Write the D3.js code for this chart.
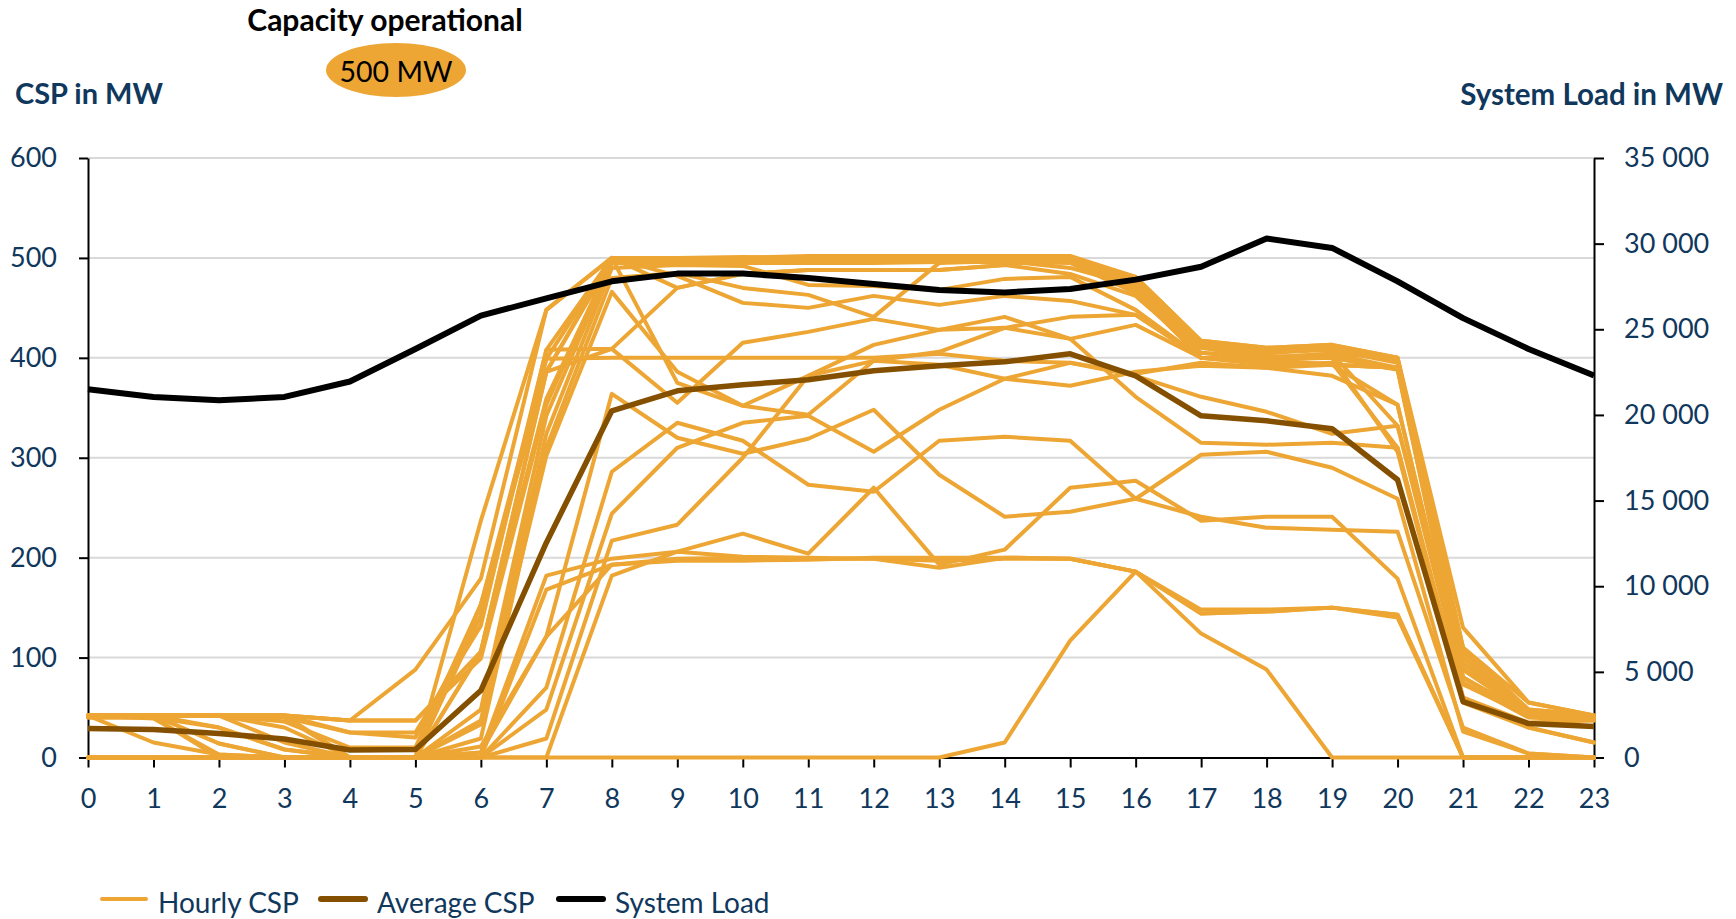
<!DOCTYPE html>
<html>
<head>
<meta charset="utf-8">
<script src="https://cdn.jsdelivr.net/npm/d3@7/dist/d3.min.js"></script>
<style>
  body { margin: 0; background: #fff; }
  svg { display: block; }
  text { font-family: Lato, "Open Sans", sans-serif; }
</style>
</head>
<body>
<svg id="chart" width="1736" height="919"></svg>
<script>
// Hours of the day
const hours = [0,1,2,3,4,5,6,7,8,9,10,11,12,13,14,15,16,17,18,19,20,21,22,23];

// Axis tick values
const cspTicks = [0,100,200,300,400,500,600];
const loadTicks = [0,5000,10000,15000,20000,25000,30000,35000];

// Hourly CSP output, one row per day (MW)
const hourlyCsp = [
  [42,42,42,42,37,37, 99,353,500,500,500,502,502,502,502,502,481,417,410,413,400,130,55,42],
  [42,42,42,40,25,20,142,399,500,500,501,500,500,500,500,500,478,415,408,410,398,105,48,42],
  [42,42,42,42,37,88,179,448,500,498,498,498,500,500,501,498,475,413,405,408,395,100,45,41],
  [42,42,42,36,10,10,153,386,498,500,500,500,499,499,500,500,470,410,400,404,390, 90,44,40],
  [42,42,30, 8, 0, 0,106,359,497,497,497,497,497,498,498,497,468,405,398,400,388, 80,42,41],
  [40,40,30, 8, 0, 0, 48,342,495,495,495,495,495,496,496,495,465,400,395,393,353, 75,40,37],
  [42,42,42,42,25,25,132,408,409,470,484,488,488,488,493,484,462,405,400,404,332, 73,42,41],
  [42,42,42,30, 0, 0, 37,324,490,493,492,473,472,468,479,481,448,400,393,395,310, 60,35,37],
  [42,15, 3, 0, 0, 0, 19,310,480,485,470,463,441,495,497,490,472,412,402,400,306, 55,30,15],
  [42,42,14, 0, 0, 0, 33,302,466,386,352,343,397,393,379,372,386,392,390,393,390, 88,44,41],
  [42,42,42,15, 0, 0,237,448,500,482,455,450,462,453,462,457,443,400,398,404,400,110,48,42],
  [42,42,42,40, 0, 0,153,399,400,400,400,400,400,404,397,395,384,395,390,382,353, 80,44,40],
  [ 0, 0, 0, 0, 0, 0,  5,121,364,320,304,319,348,283,241,246,259,303,306,290,259, 26, 4, 0],
  [ 0, 0, 0, 0, 0, 0,  0, 70,286,335,317,273,266,317,321,317,259,241,230,228,226, 30, 4, 0],
  [42,39, 3, 0, 0, 0,  0, 48,244,310,335,342,306,348,379,395,382,361,346,324,332, 88,44,40],
  [ 0, 0, 0, 0, 0, 0,  0, 19,217,233,300,382,413,428,430,441,443,400,398,393,390, 80,42,41],
  [ 0, 0, 0, 0, 0, 0,  5,182,199,206,201,200,199,197,199,199,186,144,146,150,143,  0, 0, 0],
  [ 0, 0, 0, 0, 0, 0,  0,168,193,197,197,198,200,200,200,199,186,148,148,150,140,  0, 0, 0],
  [ 0, 0, 0, 0, 0, 0,  0,  0,182,206,224,204,270,193,208,270,277,237,241,241,179,  0, 0, 0],
  [ 0, 0, 0, 0, 0, 0,  0,  0,  0,  0,  0,  0,  0,  0, 15,117,186,144,146,150,143,  0, 0, 0],
  [40,40, 0, 0, 0, 0, 11,121,193,199,200,199,199,190,200,199,186,124, 88,  0,  0,  0, 0, 0],
  [42,42,42,42,37,37,106,386,409,355,415,426,439,428,441,419,433,400,395,393,390, 95,44,40],
  [42,42,14, 0, 0, 0,142,408,500,375,352,382,397,406,430,419,361,315,313,315,310, 60,30,15],
  [42,42,42,42, 0, 0,106,386,500,470,484,488,488,488,493,500,481,417,410,413,400,110,55,42]
];

// Average CSP output (MW)
const averageCsp = [29,28,24,18.5,7.5,8,67,215,347,367,373,378,387,392,396,404,382,342,337,329,278,56,34,31];

// System load (MW)
const systemLoad = [21500,21050,20850,21050,21950,23850,25800,26800,27800,28250,28250,28000,27650,27300,27150,27350,27900,28650,30300,29750,27800,25650,23850,22300];

const legendItems = [
  {label: "Hourly CSP", color: "#EDA634", width: 4},
  {label: "Average CSP", color: "#845000", width: 6},
  {label: "System Load", color: "#000000", width: 6}
];

const NAVY = "#10375c";
const ORANGE = "#EDA634";

const svg = d3.select("#chart");
svg.append("rect").attr("width", 1736).attr("height", 919).attr("fill", "#fff");

const x = d3.scaleLinear().domain([0, 23]).range([88, 1594]);
const yL = d3.scaleLinear().domain([0, 600]).range([757.5, 158]);
const yR = d3.scaleLinear().domain([0, 35000]).range([757.5, 158]);

// Horizontal gridlines
svg.append("g").selectAll("line")
  .data(cspTicks.filter(t => t > 0))
  .join("line")
  .attr("x1", x(0)).attr("x2", x(23))
  .attr("y1", d => yL(d)).attr("y2", d => yL(d))
  .attr("stroke", "#d9d9d9").attr("stroke-width", 2);

// Axes
const spaceFmt = d3.formatLocale({decimal: ".", thousands: "\u00a0", grouping: [3], currency: ["", ""]}).format(",");

function styleAxis(g) {
  g.select(".domain").attr("stroke", "#000").attr("stroke-width", 2);
  g.selectAll(".tick line").attr("stroke", "#000").attr("stroke-width", 2);
  g.selectAll(".tick text")
    .attr("fill", NAVY)
    .style("font-family", "Lato, sans-serif")
    .style("font-size", "27px");
}

const axL = svg.append("g").attr("transform", `translate(${x(0)},0)`)
  .call(d3.axisLeft(yL).tickValues(cspTicks).tickSize(9).tickSizeOuter(0).tickPadding(22));
styleAxis(axL);

const axR = svg.append("g").attr("transform", `translate(${x(23)},0)`)
  .call(d3.axisRight(yR).tickValues(loadTicks).tickFormat(spaceFmt).tickSize(10).tickSizeOuter(0).tickPadding(20));
styleAxis(axR);

const axB = svg.append("g").attr("transform", `translate(0,${yL(0)})`)
  .call(d3.axisBottom(x).tickValues(hours).tickFormat(d3.format("d")).tickSize(10).tickSizeOuter(0));
styleAxis(axB);
axB.selectAll(".tick text").attr("y", 50.5).attr("dy", 0);

// Lines
const cspLine = d3.line().x((d, i) => x(hours[i])).y(d => yL(d));
const loadLine = d3.line().x((d, i) => x(hours[i])).y(d => yR(d));

svg.append("g").selectAll("path")
  .data(hourlyCsp)
  .join("path")
  .attr("d", cspLine)
  .attr("fill", "none")
  .attr("stroke", ORANGE)
  .attr("stroke-width", 4)
  .attr("stroke-linejoin", "round")
  .attr("stroke-linecap", "round");

svg.append("path")
  .attr("d", cspLine(averageCsp))
  .attr("fill", "none").attr("stroke", "#845000")
  .attr("stroke-width", 5.5).attr("stroke-linejoin", "round");

svg.append("path")
  .attr("d", loadLine(systemLoad))
  .attr("fill", "none").attr("stroke", "#000")
  .attr("stroke-width", 6).attr("stroke-linejoin", "round");

// Titles
svg.append("text").attr("x", 385).attr("y", 31)
  .attr("text-anchor", "middle").attr("font-weight", 700)
  .attr("font-size", 30).attr("fill", "#000")
  .text("Capacity operational");

svg.append("ellipse").attr("cx", 396).attr("cy", 70).attr("rx", 70).attr("ry", 27).attr("fill", ORANGE);
svg.append("text").attr("x", 396).attr("y", 82)
  .attr("text-anchor", "middle").attr("font-size", 28.5).attr("fill", "#000")
  .text("500 MW");

svg.append("text").attr("x", 15).attr("y", 104)
  .attr("font-weight", 700).attr("font-size", 29).attr("fill", NAVY)
  .text("CSP in MW");

svg.append("text").attr("x", 1723).attr("y", 105)
  .attr("text-anchor", "end").attr("font-weight", 700).attr("font-size", 29.5).attr("fill", NAVY)
  .text("System Load in MW");

// Legend
const legendX = [102, 321, 559];
const lg = svg.append("g").selectAll("g").data(legendItems).join("g")
  .attr("transform", (d, i) => `translate(${legendX[i]},899)`);
lg.append("line").attr("x1", 0).attr("x2", 44).attr("y1", 0).attr("y2", 0)
  .attr("stroke", d => d.color).attr("stroke-width", d => d.width).attr("stroke-linecap", "round");
lg.append("text").attr("x", 56).attr("y", 13.5)
  .attr("font-size", 28).attr("fill", NAVY)
  .text(d => d.label);
</script>
</body>
</html>
